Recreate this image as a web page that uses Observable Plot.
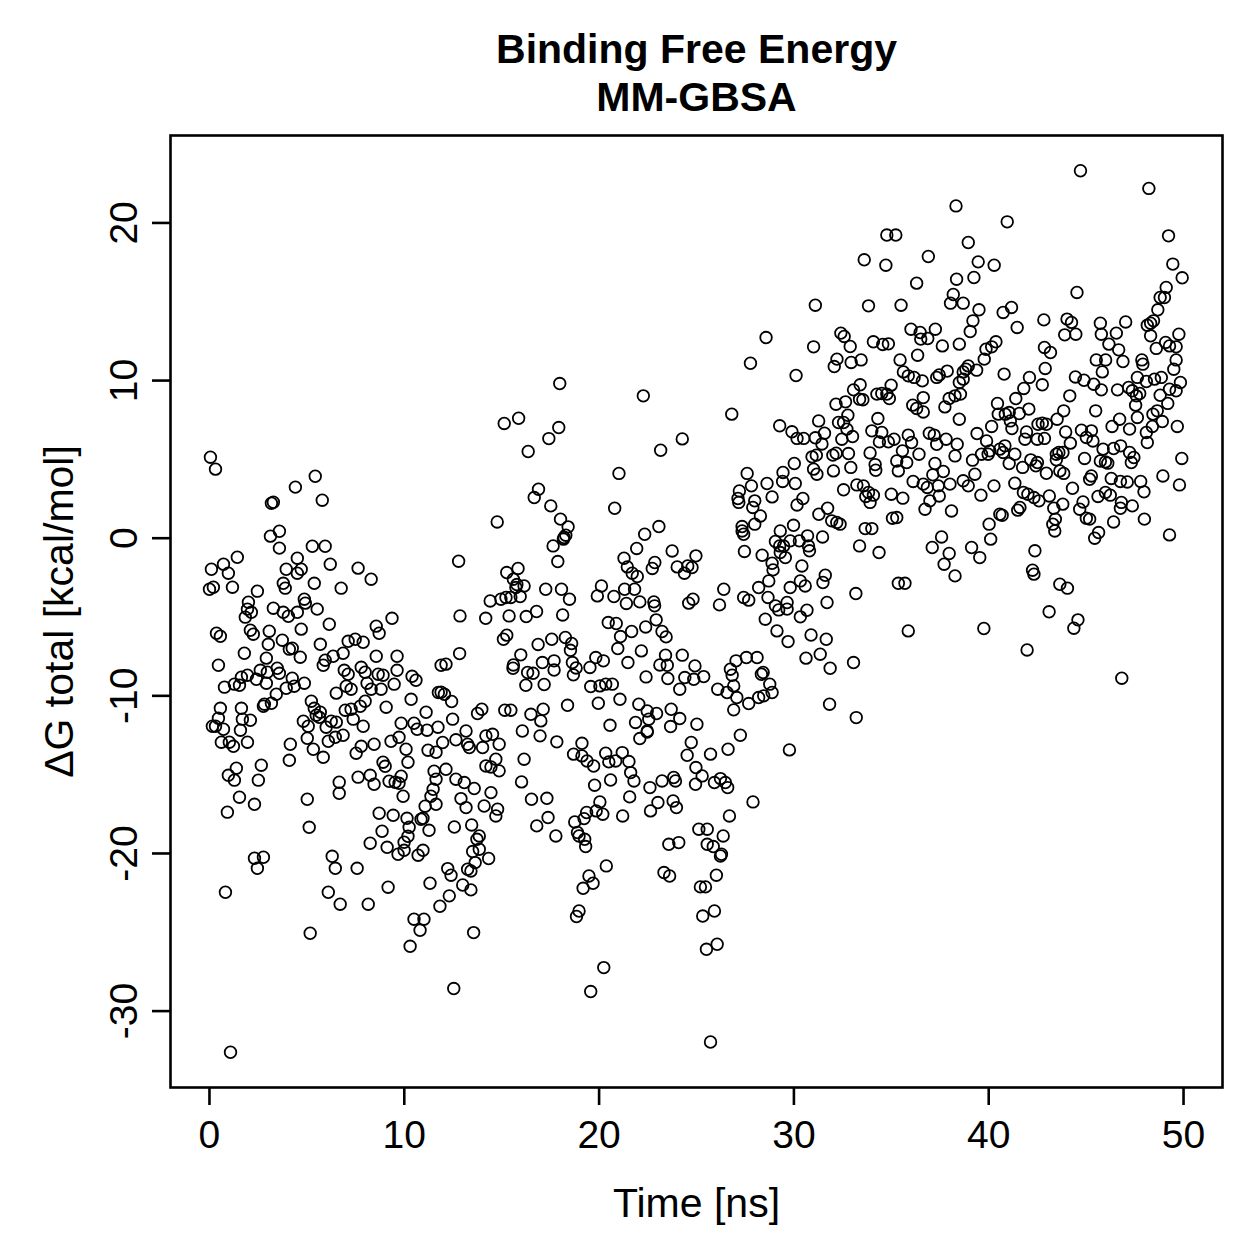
<!DOCTYPE html>
<html>
<head>
<meta charset="utf-8">
<script src="https://cdn.jsdelivr.net/npm/d3@7"></script>
<script src="https://cdn.jsdelivr.net/npm/@observablehq/plot@0.6"></script>
<style>
  html, body { margin: 0; padding: 0; background: #fff; }
</style>
</head>
<body>
<div id="chart"></div>
<script>
// MM-GBSA binding free energy per frame: [time (ns), ΔG total (kcal/mol)]
const energy0to12 = [
  [0.05,5.14],[0.31,4.38],[5.43,3.93],[4.41,3.24],[5.79,2.41],[3.28,2.28],[3.18,2.22],[3.59,0.44],[3.13,0.13],[3.59,-0.63],
  [5.28,-0.51],[5.94,-0.51],[1.43,-1.21],[0.10,-1.97],[0.72,-1.65],[0.97,-2.22],[0.00,-3.24],[0.20,-3.11],[1.18,-3.11],[4.51,-1.27],
  [3.94,-1.97],[4.71,-1.97],[4.51,-2.22],[3.79,-2.86],[3.89,-3.17],[5.38,-2.86],[6.20,-1.65],[7.63,-1.90],[8.30,-2.60],[6.76,-3.17],
  [2.46,-3.36],[2.00,-4.06],[1.95,-4.50],[2.15,-4.70],[1.84,-5.01],[3.28,-4.44],[3.79,-4.70],[4.05,-4.95],[4.51,-4.70],[4.87,-3.87],
  [4.92,-4.12],[5.53,-4.50],[6.15,-5.46],[4.71,-5.77],[3.07,-5.90],[2.10,-5.84],[2.25,-6.09],[0.36,-6.03],[0.56,-6.22],[9.37,-5.08],
  [8.56,-5.58],[8.71,-6.03],[3.02,-6.73],[3.74,-6.47],[4.25,-6.98],[4.10,-7.04],[5.69,-6.73],[7.12,-6.54],[7.48,-6.41],[7.89,-6.60],
  [6.86,-7.30],[6.35,-7.49],[5.94,-7.74],[5.84,-8.06],[1.79,-7.30],[4.66,-7.55],[2.92,-7.61],[8.56,-7.49],[9.63,-7.49],[9.63,-8.38],
  [0.46,-8.06],[2.61,-8.38],[3.48,-8.25],[3.59,-8.57],[2.97,-8.50],[2.41,-8.95],[1.95,-8.69],[1.64,-8.82],[1.28,-9.26],[1.54,-9.33],
  [0.77,-9.45],[2.92,-9.20],[4.25,-8.88],[4.35,-9.39],[4.87,-9.20],[3.94,-9.52],[3.43,-9.90],[3.18,-10.47],[2.77,-10.66],[2.82,-10.53],
  [5.23,-10.34],[5.38,-10.79],[5.69,-11.04],[5.64,-11.36],[5.48,-11.23],[4.82,-11.61],[5.07,-11.93],[6.92,-8.38],[7.12,-8.63],[7.79,-8.19],
  [7.99,-8.50],[8.66,-8.63],[8.91,-8.69],[7.02,-9.39],[7.27,-9.58],[8.09,-9.20],[8.30,-9.58],[8.81,-9.58],[9.48,-9.26],[6.51,-9.83],
  [10.40,-8.76],[10.60,-9.01],[10.35,-10.22],[11.12,-11.04],[11.89,-9.77],[11.89,-8.06],[9.07,-10.72],[7.74,-10.66],[7.99,-10.34],[6.97,-10.91],
  [7.27,-10.85],[7.38,-11.48],[7.89,-11.93],[6.25,-11.61],[6.51,-11.67],[5.99,-11.99],[9.84,-11.74],[10.50,-11.74],[10.66,-12.12],[11.17,-12.18],
  [11.73,-11.99],[0.56,-10.79],[0.46,-11.42],[0.15,-11.93],[0.31,-11.93],[0.72,-12.12],[1.64,-10.79],[1.69,-11.48],[2.10,-11.55],[1.59,-12.18],
  [0.61,-12.94],[1.02,-12.94],[1.23,-13.20],[1.95,-12.94],[4.15,-13.07],[4.10,-14.09],[5.02,-12.69],[5.33,-13.39],[5.84,-13.90],
  [6.10,-12.88],[6.46,-12.63],[6.86,-12.50],[7.53,-13.64],[7.79,-13.20],[8.45,-13.07],[9.32,-12.88],[9.73,-12.63],[10.09,-13.39],[10.19,-14.21],
  [11.22,-13.45],[11.63,-13.58],[0.97,-15.04],[1.38,-14.59],[1.28,-15.35],[2.66,-14.40],[2.51,-15.35],[1.54,-16.43],
  [2.31,-16.88],[0.92,-17.38],[5.02,-16.56],[5.12,-18.34],[6.66,-15.48],[6.66,-16.18],[7.63,-15.16],[8.25,-15.04],[8.45,-15.61],[8.91,-14.21],
  [9.02,-14.47],[9.22,-15.42],[9.53,-15.48],[9.84,-15.10],[9.73,-15.55],[9.94,-16.37],[11.53,-14.78],[11.63,-15.29],[11.48,-15.93],[11.37,-16.37],
  [11.63,-16.88],[11.07,-17.00],[8.71,-17.45],[9.43,-17.58],[10.14,-17.77],[10.86,-17.83],[10.96,-17.77],[11.27,-18.53],[10.25,-18.34],[10.19,-18.91],
  [9.99,-19.29],[8.86,-18.59],[8.25,-19.35],[9.12,-19.61],[9.68,-20.05],[9.99,-19.80],[10.71,-20.11],[10.96,-19.80],[2.31,-20.30],[2.77,-20.24],
  [2.46,-20.94],[6.30,-20.18],[6.46,-20.94],[7.58,-20.94],[0.82,-22.46],[6.10,-22.46],[6.71,-23.22],[8.15,-23.22],[9.17,-22.14],[11.32,-21.89],
  [11.83,-23.35],[10.50,-24.17],[11.01,-24.17],[10.81,-24.87],[10.30,-25.89],[5.17,-25.06],[1.08,-32.61]
];

const energy12to25 = [
  [17.98,9.81],[22.27,9.03],[15.13,7.28],[15.87,7.61],[17.93,7.02],[17.42,6.32],[16.36,5.50],[24.27,6.30],[23.16,5.58],[21.02,4.11],
  [20.80,1.90],[16.89,3.11],[16.67,2.58],[17.52,2.05],[18.02,1.21],[18.41,0.72],[18.29,0.19],[18.17,-0.06],[18.20,0.04],[17.64,-0.49],
  [17.88,-1.48],[14.77,1.03],[12.79,-1.46],[12.86,-4.93],[15.26,-2.18],[15.84,-1.92],[15.60,-2.60],[15.78,-2.94],[16.15,-3.03],[15.73,-3.13],
  [14.41,-3.98],[14.96,-3.87],[15.22,-3.76],[15.47,-3.76],[15.95,-3.70],[17.26,-3.24],[18.07,-3.24],[18.48,-3.87],[14.18,-5.08],[15.38,-4.93],
  [16.26,-4.97],[16.79,-4.65],[18.13,-4.87],[15.09,-6.41],[15.26,-6.15],[15.98,-7.40],[16.87,-6.74],[17.57,-6.41],[18.27,-6.30],[18.59,-6.68],
  [18.53,-7.11],[15.60,-8.04],[15.58,-8.25],[16.33,-8.52],[16.61,-8.57],[17.18,-9.28],[16.24,-9.33],[17.09,-7.89],[17.69,-7.78],[17.69,-8.36],
  [18.63,-7.89],[18.82,-8.23],[18.68,-8.67],[12.14,-7.99],[12.84,-7.32],[11.75,-9.79],[12.06,-9.90],[12.43,-10.36],[12.48,-11.48],[13.76,-11.12],
  [13.98,-10.85],[15.16,-10.91],[15.47,-10.91],[16.50,-11.17],[17.13,-10.85],[17.01,-11.59],[18.38,-10.60],[19.53,-8.20],[19.83,-7.57],[20.22,-7.78],
  [19.96,-10.47],[21.07,-10.22],[20.56,-11.87],[19.57,-9.41],[20.04,-9.37],[20.34,-9.26],[20.68,-9.26],[20.12,-3.03],[19.91,-3.66],[20.76,-3.70],
  [21.31,-3.24],[21.82,-3.24],[21.40,-4.14],[22.09,-4.04],[22.81,-4.04],[22.85,-4.29],[21.28,-1.27],[21.45,-1.82],[21.70,-2.22],[21.96,-2.43],
  [21.93,-0.65],[22.34,0.25],[23.07,0.74],[22.73,-1.92],[22.86,-1.54],[23.75,-0.81],[24.01,-1.82],[24.38,-2.22],[24.55,-1.76],[24.77,-1.86],
  [24.97,-1.12],[24.60,-4.12],[24.82,-3.87],[20.47,-5.35],[20.88,-5.41],[21.10,-6.24],[21.67,-5.92],[22.39,-5.63],[22.93,-5.18],[23.23,-5.92],
  [23.44,-6.26],[20.96,-7.00],[22.17,-7.15],[21.48,-7.89],[22.41,-8.80],[23.12,-8.04],[23.41,-7.42],[23.50,-8.06],[23.53,-8.90],[24.27,-7.42],
  [24.92,-8.10],[24.14,-9.58],[24.40,-8.84],[24.86,-8.95],[22.04,-10.53],[22.47,-10.96],[22.95,-11.12],[23.70,-10.85],[24.14,-11.44],[22.55,-11.48],
  [21.87,-11.69],[23.67,-11.95],[22.47,-12.23],[25.02,-11.80],
  [11.97,-12.96],[12.65,-12.79],[13.25,-13.07],[13.34,-13.28],[14.02,-13.28],[14.19,-12.54],[14.53,-12.44],[14.87,-13.07],[13.17,-12.23],[14.70,-14.02],
  [14.19,-14.45],[14.45,-14.51],[14.87,-14.76],[12.14,-14.66],[12.65,-15.29],[13.08,-15.50],[13.59,-15.88],[12.91,-16.52],
  [13.17,-17.09],[14.10,-16.99],[14.45,-16.14],[14.79,-17.19],[14.70,-17.62],[12.57,-18.32],[13.46,-18.19],[13.85,-18.89],[13.73,-19.10],[13.85,-19.73],
  [13.51,-19.88],[14.33,-20.32],[13.64,-20.58],[13.25,-21.00],[13.42,-21.11],[12.23,-20.96],[12.40,-21.38],[13.00,-22.00],[13.42,-22.31],[12.31,-22.69],
  [13.56,-25.02],[12.54,-28.57],[16.15,-14.02],[16.02,-15.46],[16.53,-16.56],[17.32,-16.50],[17.38,-17.72],
  [16.80,-18.25],[17.78,-18.89],[17.83,-12.92],[16.97,-12.54],[16.06,-12.23],[18.69,-13.70],[19.12,-13.01],[19.12,-13.81],[19.38,-14.13],[19.72,-14.45],
  [20.34,-13.64],[20.50,-14.19],[20.85,-14.13],[21.19,-13.60],[21.53,-14.17],[21.62,-14.87],[21.79,-15.40],[20.59,-15.34],[19.77,-15.67],[20.04,-16.73],
  [19.85,-17.30],[20.19,-17.51],[19.36,-17.40],[19.23,-17.79],[18.75,-18.00],[18.89,-18.67],[18.97,-18.89],[19.26,-19.10],[19.31,-19.56],[21.21,-17.62],
  [21.57,-16.41],[20.37,-20.79],[19.48,-21.43],[19.69,-21.89],[19.18,-22.21],[18.97,-23.65],[18.84,-24.00],[20.24,-27.24],[19.57,-28.76],[22.09,-12.71],
  [22.47,-12.29],[22.61,-15.82],[23.23,-15.40],[23.83,-15.18],[23.92,-15.40],[22.64,-17.30],[23.02,-16.77],[23.80,-16.67],[23.97,-17.09],[24.52,-13.77],
  [24.73,-12.96],[24.97,-14.55],[24.95,-15.61],[23.58,-19.42],[24.09,-19.31],[23.33,-21.21],[23.62,-21.43]
];

const energy25to38 = [
  [34.77,19.23],[35.23,19.23],[33.61,17.66],[34.72,17.32],[36.90,17.87],[36.30,16.18],[38.35,16.43],[38.18,15.46],[38.04,14.91],[31.10,14.78],
  [33.83,14.74],[35.50,14.78],[28.57,12.73],[31.01,12.14],[27.77,11.10],[30.11,10.32],[26.81,7.87],[32.41,13.01],[32.58,12.80],[32.89,12.16],
  [34.08,12.46],[34.56,12.29],[34.85,12.33],[36.01,13.26],[36.48,13.05],[36.51,12.63],[36.87,12.67],[37.26,13.26],[37.62,12.20],[38.49,12.31],
  [36.35,11.61],[35.45,11.31],[32.21,11.36],[32.07,10.89],[32.94,11.15],[33.45,11.31],[35.62,10.55],[35.87,10.30],[36.17,10.20],[36.59,9.98],
  [37.33,10.20],[37.46,10.36],[37.87,10.60],[38.49,9.88],[33.40,9.73],[33.06,9.41],[33.37,8.82],[33.54,8.78],[34.26,9.14],[34.51,9.18],
  [34.77,9.14],[34.99,9.71],[34.90,8.86],[32.16,8.50],[32.65,8.65],[32.77,7.80],[32.29,7.34],[32.55,7.34],[32.72,6.92],[31.27,7.44],
  [29.27,7.13],[29.90,6.75],[30.16,6.33],[30.50,6.33],[31.10,6.37],[31.57,6.66],[31.44,5.98],[32.46,6.28],[33.01,6.45],[34.00,6.81],
  [34.31,7.59],[34.51,6.71],[34.39,6.11],[34.85,6.11],[35.14,6.28],[35.87,6.54],[36.10,8.44],[36.30,8.23],[36.64,8.01],[36.64,8.92],
  [36.04,6.07],[36.95,6.66],[37.20,6.54],[37.81,6.28],[37.75,8.33],[37.97,8.86],[38.27,9.03],[38.49,7.55],
  [27.60,4.11],[27.82,3.32],[27.20,3.00],[27.13,2.52],[27.17,2.27],[27.99,2.37],[27.89,1.95],[28.28,1.41],[27.99,0.89],[27.34,0.74],
  [27.34,0.46],[27.42,0.25],[28.62,3.47],[28.88,2.62],[29.44,4.17],[29.42,3.60],[30.02,4.74],[30.07,3.47],[30.46,2.52],[30.16,2.11],
  [30.93,5.16],[31.15,5.27],[31.01,4.38],[31.18,4.06],[32.03,4.27],[32.00,5.27],[32.17,5.39],[32.80,5.37],[32.92,4.49],[31.28,1.52],
  [31.73,1.90],[31.94,1.10],[32.20,1.00],[32.37,0.89],[29.98,0.82],[29.30,0.46],[29.05,-0.21],[28.37,-1.08],[27.46,-0.84],[29.47,-0.49],
  [29.81,-0.17],[30.28,-0.17],[30.70,0.15],[30.75,-0.49],[30.80,-0.80],[31.47,0.08],[29.27,-0.49],[29.30,-0.91],[29.56,-1.23],[28.88,-1.59],
  [28.93,-2.01],[28.71,-2.71],[30.41,-1.76],[29.81,-3.13],[30.33,-2.71],[30.58,-3.03],[31.61,-2.35],[31.49,-2.81],[28.19,-3.13],[27.42,-3.76],
  [27.68,-3.93],[26.40,-3.24],[26.18,-4.23],[28.67,-3.76],[29.05,-4.29],[29.22,-4.55],[29.65,-4.08],[29.65,-4.50],[30.67,-4.57],[30.33,-4.99],
  [31.70,-4.08],[28.53,-5.14],[29.13,-5.88],[29.70,-6.56],[30.88,-6.14],[31.66,-6.41],[30.62,-7.61],[31.35,-7.36],[31.86,-8.25],[33.06,-7.89],
  [33.18,-3.51],[35.87,-5.88],[35.36,-2.86],[35.70,-2.86],[31.83,-10.53],[33.20,-11.38],[27.25,-12.50],[26.62,-13.39],[29.77,-13.43],
  [25.72,-13.70],[25.37,-8.78],[26.09,-9.58],[26.57,-9.79],[26.91,-9.37],[27.07,-10.11],[26.91,-10.89],[27.68,-10.49],[28.19,-10.11],[28.45,-10.00],
  [28.88,-9.79],[28.76,-9.26],[28.33,-8.63],[28.42,-8.52],[28.11,-7.57],[27.56,-7.57],[27.03,-7.78],[26.74,-8.31],[26.83,-8.69],
  [33.91,5.41],[34.17,4.67],[34.20,4.31],[35.57,5.54],[35.79,4.80],[35.28,4.90],[35.36,4.27],[36.42,5.33],[37.24,4.74],
  [37.67,4.23],[37.13,4.02],[38.27,5.22],[37.33,5.96],[36.12,3.60],[36.64,3.43],[36.85,3.22],[37.41,3.32],[38.01,3.43],[36.98,2.37],
  [36.73,1.84],[38.09,1.73],[37.46,2.68],[35.00,2.79],[35.59,2.54],[35.06,1.27],[35.28,1.31],[33.66,0.61],[34.00,0.61],[33.37,-0.49],
  [34.37,-0.91],[32.55,3.07],[33.23,3.38],[33.57,3.32],[33.69,2.65],[33.91,2.27],[34.08,2.73],[33.83,2.90],[37.58,0.08],[37.10,-0.59],
  [37.97,-0.97],[37.71,-1.65],[38.27,-2.39],
  [25.29,-15.08],[25.92,-15.50],[26.23,-15.25],[26.48,-15.50],[26.60,-15.82],[27.90,-16.73],[26.69,-17.62],[25.12,-18.46],[25.55,-18.46],[26.37,-18.89],
  [25.55,-19.42],[25.86,-19.56],[26.28,-20.05],[26.23,-20.16],[26.02,-21.38],[25.20,-22.12],[25.46,-22.12],[25.92,-23.65],[25.32,-23.97],[26.06,-25.76],
  [25.51,-26.08],[25.72,-31.96]
];

const energy38to50 = [
  [44.71,23.31],[48.22,22.19],[38.32,21.08],[40.95,20.07],[49.23,19.18],[38.95,18.76],[39.46,17.53],[40.28,17.32],[49.45,17.39],[49.93,16.52],
  [39.24,16.54],[38.69,14.91],[39.50,14.49],[40.74,14.32],[41.17,14.64],[41.46,13.37],[39.19,13.79],[39.05,13.11],[44.53,15.59],
  [42.83,13.85],[44.02,13.90],[44.25,13.69],[43.90,12.90],[44.47,12.94],[45.73,13.64],[45.78,12.94],[46.55,13.01],[47.03,13.72],[46.17,12.31],
  [46.67,11.95],[46.89,11.21],[45.52,11.31],[46.00,11.31],[45.83,10.55],[47.86,11.31],[47.91,11.04],[48.14,13.51],[48.31,13.64],[48.46,13.79],
  [48.68,14.49],[48.80,15.27],[49.02,15.27],[49.11,15.91],[48.31,12.84],[48.60,12.04],[49.08,12.42],[49.28,12.20],[49.62,12.14],[49.76,12.94],
  [49.62,11.31],[49.50,10.72],[49.84,9.88],[48.86,10.20],[48.51,10.09],[48.09,9.94],[47.63,10.20],[47.18,9.56],[47.37,9.35],[47.58,9.03],
  [47.75,9.18],[49.28,9.45],[49.62,9.35],[48.80,9.07],[49.19,8.55],[47.54,8.44],[47.63,7.66],[48.43,7.87],[48.65,8.08],[48.91,7.40],
  [49.68,7.09],[48.40,7.09],[48.09,6.71],[48.14,6.07],[47.23,6.92],[46.72,7.55],[46.33,7.09],[46.61,9.41],[45.78,9.41],[45.39,9.77],
  [44.89,10.02],[44.45,10.23],[45.49,8.08],[44.16,9.03],[43.85,8.08],[43.51,7.55],[43.95,6.74],[44.76,6.85],[45.27,6.81],[45.01,6.39],
  [45.35,6.17],[44.19,6.03],[42.86,12.10],[43.17,11.78],[42.90,10.77],[42.75,9.73],[42.09,10.20],[41.80,9.50],[41.39,8.86],[42.06,8.19],
  [41.57,7.91],[40.85,7.87],[41.05,7.97],[40.45,8.55],[40.49,7.87],[41.11,7.44],[40.15,7.09],[41.19,6.96],[41.94,6.74],[42.53,7.23],
  [42.75,7.30],[42.96,7.23],[41.86,6.28],[42.49,6.28],[42.86,6.33],[39.40,6.64],[39.89,6.17],[38.38,5.96],[39.86,11.99],
  [40.15,12.14],[40.37,12.46],[39.77,11.36],[39.38,10.66],[38.95,10.93],[38.83,10.72],[38.69,10.55],[38.69,10.09],[38.55,9.14],[40.79,10.41],
  [39.17,4.95],[39.63,5.33],[39.97,5.33],[40.06,5.54],[40.57,5.65],[40.83,5.86],[40.74,5.44],[41.34,5.33],
  [41.05,4.74],[41.74,4.49],[42.16,4.97],[42.50,4.80],[42.42,4.59],[42.96,4.12],[43.47,5.33],[43.60,5.44],[43.81,5.44],
  [43.47,4.97],[43.65,4.27],[43.85,4.11],[44.92,5.06],[45.87,5.65],[46.41,5.69],[46.77,5.86],[47.23,5.44],[47.45,5.12],
  [47.32,4.80],[45.73,4.90],[45.99,4.84],[46.11,4.76],[48.94,3.95],[49.91,5.06],[49.79,3.38],[47.80,3.60],[47.97,2.94],[46.29,3.79],
  [46.76,3.60],[47.11,3.57],[45.27,3.95],[45.18,3.74],[44.30,3.17],[45.61,2.65],[45.99,2.90],[46.24,2.73],[46.81,2.27],[47.37,2.05],
  [46.76,1.90],[44.84,2.30],[44.67,1.84],[45.01,1.27],[45.18,1.21],[46.41,1.03],[47.99,1.21],[45.64,0.36],[45.44,0.00],[49.28,0.21],
  [43.80,2.16],[43.34,1.90],[43.42,1.21],[43.29,0.89],[43.39,0.46],[43.11,2.68],[42.58,2.37],[42.32,2.58],[42.01,2.79],[41.78,2.90],
  [41.34,3.49],[41.60,1.95],[41.49,1.78],[40.57,1.52],[40.69,1.46],[40.02,0.89],[40.10,-0.06],[40.27,3.32],[39.60,2.73],[39.29,4.06],
  [38.69,3.64],[38.95,3.32],[39.12,-0.59],[39.54,-1.23],[42.37,-0.80],[42.25,-2.03],[42.32,-2.28],[43.65,-2.92],[44.04,-3.17],[43.10,-4.67],
  [44.58,-5.18],[44.37,-5.71],[39.75,-5.73],[41.97,-7.09],[46.83,-8.88]
];

const xTicks = [0, 10, 20, 30, 40, 50];
const yTicks = [-30, -20, -10, 0, 10, 20];
const titleLines = ["Binding Free Energy", "MM-GBSA"];
const xLabel = "Time [ns]";
const yLabel = "ΔG total [kcal/mol]";
const runLength = [0, 50];

const frames = [...energy0to12, ...energy12to25, ...energy25to38, ...energy38to50]
  .map(([t, dG]) => ({t, dG}));

// R-style axis ranges: data range extended by 4% on each side
const pad4 = ([a, b]) => [a - (b - a) * 0.04, b + (b - a) * 0.04];
const yExtent = d3.extent(frames, d => d.dG);

const chart = Plot.plot({
  width: 1259,
  height: 1259,
  marginLeft: 170,
  marginRight: 37,
  marginTop: 135,
  marginBottom: 172,
  style: {fontFamily: "'Liberation Sans', Arial, Helvetica, sans-serif", background: "#fff", color: "#000"},
  x: {domain: pad4(runLength)},
  y: {domain: pad4(yExtent)},
  marks: [
    Plot.dot(frames, {x: "t", y: "dG", r: 5.8, stroke: "#000", strokeWidth: 1.8, fill: "none"}),
    Plot.frame({stroke: "#000", strokeWidth: 2.6}),
    Plot.axisX(xTicks, {tickSize: 18, tickPadding: 15, fontSize: 39, tickFormat: d => String(d), strokeWidth: 2.6, label: null}),
    Plot.axisY(yTicks, {tickSize: 18, tickFormat: () => "", strokeWidth: 2.6, label: null}),
    Plot.text(yTicks, {y: d => d, text: d => String(d), frameAnchor: "left", dx: -34, rotate: -90,
      textAnchor: "middle", lineAnchor: "bottom", fontSize: 39}),
    Plot.text([xLabel], {frameAnchor: "bottom", dy: 129, textAnchor: "middle", lineAnchor: "bottom", fontSize: 41}),
    Plot.text([yLabel], {frameAnchor: "left", dx: -98, rotate: -90, textAnchor: "middle", lineAnchor: "bottom", fontSize: 41}),
    Plot.text([titleLines[0]], {frameAnchor: "top", dy: -73, textAnchor: "middle", lineAnchor: "bottom", fontSize: 41, fontWeight: "bold"}),
    Plot.text([titleLines[1]], {frameAnchor: "top", dy: -25, textAnchor: "middle", lineAnchor: "bottom", fontSize: 41, fontWeight: "bold"})
  ]
});

document.getElementById("chart").appendChild(chart);
</script>
</body>
</html>
